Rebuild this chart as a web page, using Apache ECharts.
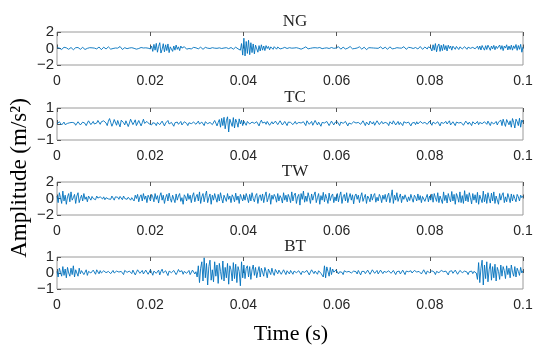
<!DOCTYPE html>
<html><head><meta charset="utf-8">
<script src="https://cdn.jsdelivr.net/npm/echarts@6/dist/echarts.min.js"></script>
<style>html,body{margin:0;padding:0;background:#fff}#c{width:550px;height:354px}</style>
</head><body><div id="c"></div>
<script>
const panelTitles = ['NG', 'TC', 'TW', 'BT'];
const yLimits = [[-2, 2, 2], [-1, 1, 1], [-2, 2, 2], [-1, 1, 1]];
const xTicks = [0, 0.02, 0.04, 0.06, 0.08, 0.1];
const tStart = 0, tEnd = 0.1;

const ng = [
.1,.18,.05,-.08,-.12,.02,.15,.2,.08,-.05,-.1,.05,.12,.0,-.15,-.05,.1,.22,.12,-.02,-.1,.0,.14,.06,-.12,-.18,.02,.16,.1,-.04,.08,.2,.05,-.1,-.05,.12,.18,.0,-.14,.04,
.16,.1,-.06,.02,.2,.14,-.08,-.16,.0,.12,.06,-.1,.04,.18,.24,.05,-.12,-.04,.1,.16,-.02,-.14,.06,.2,.1,-.05,.02,.14,-.08,-.2,.0,.18,.12,-.04,.06,.22,.08,-.1,.04,.12,
-.05,.3,-.35,.5,-.2,.62,-.45,.25,.7,-.55,-.1,.58,-.4,.45,-.25,.55,-.5,.2,.4,-.35,.3,-.2,.42,-.1,.2,-.25,.3,.05,-.12,.22,.1,-.08,.15,.0,.18,-.05,.1,.14,-.06,.08,
.12,-.04,.06,.16,.02,-.1,.08,.14,-.02,.04,.12,.0,-.08,.1,.18,.04,-.06,.02,.12,.08,-.1,.0,.14,.06,-.04,.1,.16,-.02,.04,.12,.0,-.08,.06,.16,.08,-.04,.1,-.2,.6,-.8,
1.25,-.9,.85,-.6,1.0,-.75,.7,-.5,.55,-.65,.4,.6,-.45,.35,-.3,.45,-.2,.3,-.25,.35,.0,.25,-.15,.2,.1,-.1,.22,.05,-.08,.18,.12,-.05,.15,.02,-.1,.14,.2,.0,-.06,.1,
.16,.04,-.1,.06,.18,.1,-.06,.02,.14,-.08,-.14,.04,.12,.2,.06,-.04,.1,.02,-.12,.08,.16,.1,-.02,.06,.2,.12,-.08,-.02,.1,.04,-.1,.08,.18,.0,-.06,.12,.16,.02,-.08,.06,
.14,.22,.06,-.08,.02,.16,.1,-.06,-.12,.04,.18,.24,.08,-.04,.1,.0,-.1,.06,.14,.2,.02,-.08,.12,.16,.0,-.14,.04,.1,.22,.08,-.06,.06,.18,.04,-.1,.02,.14,.2,.06,-.04,
.08,.16,-.02,-.1,.06,.2,.12,-.04,.08,.0,-.12,.1,.18,.06,-.08,.04,.16,.22,.02,-.1,.06,.14,-.04,.1,.2,.0,-.08,.12,.06,-.06,.14,.24,.04,-.1,.08,.18,.02,-.06,.2,.3,
.05,-.3,.45,-.2,.6,-.4,.3,.55,-.35,.4,-.25,.5,-.15,.35,-.3,.4,.0,.3,-.2,.28,.05,-.1,.25,.1,-.12,.2,.15,-.05,.08,.22,.0,-.1,.16,.26,.02,-.08,.14,.2,-.04,.1,
.28,-.1,.3,-.18,.36,.05,-.2,.34,-.12,.4,.1,-.22,.3,-.05,.38,-.15,.28,.0,-.2,.42,-.1,.35,-.25,.3,.05,.45,-.18,.3,-.12,.4,-.2,.32,.0,.48,-.22,.36,-.1,.5,-.45,.2
];
const tc = [
.0,.08,.14,.02,-.06,.06,.12,-.04,-.1,.04,.16,.08,-.02,.1,.2,.06,-.08,.02,.14,.1,-.06,.0,.12,.18,.04,-.1,.06,.2,.12,-.04,.08,.16,.0,-.12,.06,.22,.1,-.02,.14,.04,
.2,.3,.06,-.1,.18,.34,.1,-.14,.04,.28,.16,-.08,.22,.0,-.18,.24,.36,.08,-.06,.2,.12,-.16,.06,.3,.18,-.04,.1,.26,-.1,-.02,.22,.14,-.12,.08,.3,.04,-.08,.16,.24,.0,
.12,-.06,.08,.2,.04,-.1,.1,.16,-.04,.02,.18,.08,-.12,.06,.14,.22,.0,-.08,.1,.04,-.14,.08,.2,.12,-.02,.06,.16,-.06,.0,.14,.2,.04,-.1,.08,.18,.02,-.06,.12,.06,-.02,
.1,.18,.0,-.08,.12,.04,-.1,.14,.2,.02,-.06,.1,.16,-.04,.08,.22,.06,-.12,.1,.28,-.2,.35,-.1,.42,-.3,.2,.45,-.5,.3,.38,-.15,.4,-.25,.3,.1,-.2,.32,.0,.24,-.1,
.18,.06,-.08,.16,.22,.0,-.1,.12,.2,.04,-.06,.14,.08,-.12,.1,.24,.06,-.04,.12,-.02,.16,.2,-.08,.04,.14,.0,-.1,.18,.1,-.04,.06,.2,.12,-.06,.02,.16,.08,-.1,.12,.04,
.1,.2,-.04,.06,.16,.0,-.12,.1,.18,.06,-.06,.14,.02,-.1,.2,.12,-.02,.08,.16,-.08,.0,.22,.1,-.06,.12,.04,-.14,.1,.2,.06,-.04,.16,.08,-.1,.04,.18,.12,-.06,.1,.0,
.14,.06,-.1,.12,.22,.04,-.04,.16,.1,-.12,.06,.18,.0,-.08,.14,.2,.06,-.06,.1,.16,-.02,.04,.2,.08,-.1,.12,.04,-.06,.18,.1,.0,.14,-.08,.06,.2,.12,-.04,.08,.16,.02,
-.06,.1,.18,.04,-.1,.14,.08,.0,.2,.12,-.06,.06,.16,-.04,.1,.02,-.1,.14,.2,.06,-.02,.12,.08,-.12,.06,.18,.1,-.04,.14,.0,-.08,.16,.22,.04,-.06,.1,.14,-.02,.08,.18,
.06,-.08,.12,.2,.02,-.06,.14,.08,-.12,.1,.18,.04,-.04,.16,.0,.1,.2,-.06,.06,.14,.02,-.1,.12,.22,.06,-.04,.1,.16,-.08,.04,.18,.1,-.02,.12,.06,-.1,.14,.2,.0,.08,
.16,-.04,.1,.2,.02,-.08,.14,.06,-.02,.18,.1,-.1,.12,.2,.0,.08,.16,-.06,.12,.04,.24,-.1,.3,.05,-.15,.28,.36,-.05,.2,-.2,.34,.1,-.25,.3,.15,-.1,.36,-.2,.25,.1
];
const tw = [
.3,-.5,.7,.1,-.6,.9,-.3,.4,-.7,.2,.6,-.4,.8,-.2,.1,.5,-.6,.3,.7,-.5,.0,.4,-.3,.6,-.1,.2,-.4,.3,.1,-.2,.25,.0,.15,-.15,.3,.05,-.1,.2,.1,-.05,
.2,-.15,.1,.25,-.05,.15,-.1,.3,.05,-.2,.2,.0,.15,-.1,.25,.1,-.15,.3,.0,.2,-.1,.15,.35,-.2,.1,.3,-.3,.4,.0,.5,-.4,.2,.45,-.3,.6,-.1,.3,-.5,.4,.1,
-.3,.5,.2,-.4,.6,-.1,.35,-.55,.3,.7,-.2,.4,-.6,.1,.5,-.3,.65,.0,-.45,.4,.2,-.5,.55,-.2,.3,.6,-.35,.1,-.7,.45,.2,-.3,.6,-.1,.4,-.5,.3,.7,-.4,.2,
.5,-.3,.8,-.6,.2,.6,-.4,.35,.9,-.5,.1,.55,-.7,.4,-.2,.6,.05,-.45,.5,-.3,.7,.0,-.55,.4,.2,-.35,.6,-.1,.3,-.5,.45,.15,-.4,.65,-.2,.3,-.6,.5,.1,-.3,
.4,-.2,.6,.1,-.5,.5,-.3,.7,.0,-.4,.35,.6,-.6,.2,.45,-.25,.55,-.5,.3,.8,-.4,.1,.6,-.7,.4,-.1,.5,.2,-.45,.6,-.3,.35,.05,-.55,.7,-.2,.4,-.4,.5,.1,
-.5,.8,-.3,.4,.65,-.6,.2,.5,-.8,.6,-.1,.9,-.45,.3,-.35,.7,.1,-.6,.55,-.2,.4,.8,-.5,.1,.6,-.7,.35,-.2,.75,-.4,.5,.0,-.6,.65,-.25,.3,.55,-.5,.2,-.3,
.6,-.4,.35,.8,-.6,.2,.5,-.3,.7,-.5,.1,.6,-.2,.45,-.65,.3,.55,-.1,.4,-.5,.25,.7,-.35,.1,.5,-.6,.3,.05,-.4,.55,-.2,.35,.6,-.45,.15,-.3,.5,.2,-.5,.4,
-.1,.5,-.4,.3,.65,-.5,.2,1.05,-.6,.4,-.2,.7,-.35,.15,.55,-.5,.3,-.1,.45,.6,-.4,.2,-.25,.5,.0,-.45,.4,.15,-.3,.55,-.2,.35,-.5,.25,.45,-.35,.1,.5,-.4,.3,
-.2,.55,-.45,.6,.1,-.35,.7,-.5,.3,.45,-.6,.8,-.25,.4,-.55,.6,.0,-.4,.85,-.3,.5,-.7,.6,.2,-.45,.8,-.5,.35,-.6,.95,-.3,.5,-.4,.7,.1,-.65,.6,-.2,.45,-.5,
.75,-.7,.4,.2,-.5,.9,-.4,.5,-.6,.7,.0,-.55,.65,-.3,.8,-.6,.3,.5,-.7,.6,-.2,.4,.7,-.5,.2,-.4,.6,.1,-.5,.55,-.3,.45,.0,-.4,.5,.2,-.3,.4,.1,.3
];
const bt = [
.1,-.25,.3,.05,-.2,.4,-.15,.25,-.3,.35,.0,-.2,.3,-.1,.45,-.25,.2,.1,-.2,.3,-.05,.15,.25,-.1,.05,.2,-.15,.1,.22,.0,-.1,.18,.06,-.08,.2,.12,-.05,.15,.0,-.1,
.14,.2,.02,-.08,.1,.18,-.04,.06,.16,.0,-.12,.12,.2,.06,-.06,.1,.02,-.1,.16,.22,.04,-.08,.12,.06,-.04,.18,.1,-.12,.04,.2,.14,-.02,.08,.16,-.06,.0,.18,.1,-.08,.06,
.2,.04,-.14,.12,.22,-.02,.06,.18,-.12,.1,.24,.0,-.08,.14,.06,-.16,.12,.2,.02,-.06,.16,.1,-.1,.04,.22,.08,-.04,.14,-.08,.1,.2,-.02,.06,.16,-.1,.0,.18,.12,-.06,.08,
-.25,.45,-.6,.3,.7,-.5,.95,-.3,.6,-.75,.4,.8,-.45,.2,-.55,.7,-.2,.5,-.65,.6,.1,-.4,.75,-.5,.35,-.3,.6,-.7,.45,.2,-.5,.65,-.35,.55,-.6,.4,.1,-.8,.7,-.3,
.5,-.35,.3,.45,-.25,.4,-.4,.2,.5,-.15,.35,-.3,.1,.4,-.25,.3,.05,-.2,.35,.1,-.3,.25,.15,-.1,.3,.0,-.15,.22,.1,-.05,.18,.25,-.08,.06,.2,.12,-.1,.14,.04,-.06,
.16,.06,-.08,.12,.2,.02,-.06,.14,.08,-.1,.1,.18,.04,-.04,.16,.1,-.12,.06,.2,.08,-.04,.12,.02,-.08,.14,.18,-.02,.1,-.25,.45,-.3,.38,.1,-.2,.35,-.1,.25,.05,-.05,.2,
.12,-.06,.08,.2,.04,-.1,.14,.22,.06,-.04,.1,.18,.0,-.1,.12,.2,.08,-.06,.16,.02,-.12,.1,.22,.1,-.04,.06,.18,.12,-.08,.04,.2,.14,-.02,.08,.16,-.06,.02,.18,.1,-.04,
.1,.22,.04,-.08,.14,.2,-.02,.06,.16,.1,-.1,.08,.2,.12,-.06,.02,.18,.06,-.1,.12,.24,.08,-.04,.14,.0,-.08,.16,.22,.06,-.02,.1,.18,-.06,.04,.2,.1,-.08,.12,.16,.02,
-.04,.14,.2,.06,-.1,.1,.18,.02,-.06,.16,.22,.08,-.04,.12,.0,-.12,.1,.2,.14,-.02,.06,.18,.1,-.08,.04,.16,.24,.02,-.06,.12,.2,.06,-.1,.08,.18,.12,-.04,.1,.2,.0,
-.4,.65,-.6,.3,.8,-.75,.5,-.35,.7,-.55,.2,.6,-.45,.4,-.3,.55,-.5,.35,.1,-.4,.5,-.2,.4,.15,-.35,.45,-.1,.3,-.3,.5,.05,-.2,.4,-.25,.3,.1,-.15,.35,.0,.15
];
const signals = [ng, tc, tw, bt];

const chart = echarts.init(document.getElementById('c'), null, {renderer: 'canvas'});
const gridTops = [32, 108, 182, 257];
const gridH = [33, 32, 33, 32];
const L = 57, R = 27;
const boxColor = '#9a9a9a';
const lblColor = '#262626';
const fmtMinus = v => String(v).replace('-', '\u2212');

const grids = [], xAxes = [], yAxes = [], series = [], titles = [];
signals.forEach((sig, i) => {
  grids.push({left: L, right: R, top: gridTops[i], height: gridH[i], show: true, borderColor: boxColor, borderWidth: 1, backgroundColor: '#fff'});
  const common = {type: 'value', gridIndex: i, min: tStart, max: tEnd, interval: 0.02,
    axisLine: {show: false}, splitLine: {show: false},
    axisTick: {show: true, inside: true, length: 4, lineStyle: {color: '#555', width: 1}}};
  xAxes.push(Object.assign({}, common, {position: 'bottom',
    axisLabel: {show: true, color: lblColor, fontFamily: 'Liberation Sans', fontSize: 14, margin: 9,
      formatter: v => String(+v.toFixed(2))}}));
  xAxes.push(Object.assign({}, common, {position: 'top', axisLabel: {show: false}}));
  yAxes.push({type: 'value', gridIndex: i, min: yLimits[i][0], max: yLimits[i][1], interval: yLimits[i][2],
    axisLine: {show: false}, splitLine: {show: false},
    axisTick: {show: true, inside: true, length: 4, lineStyle: {color: '#555'}},
    axisLabel: {color: lblColor, fontFamily: 'Liberation Sans', fontSize: 15, margin: 3, formatter: fmtMinus}});
  const n = sig.length;
  series.push({type: 'line', xAxisIndex: 2 * i, yAxisIndex: i, showSymbol: false, animation: false,
    lineStyle: {color: '#0072BD', width: 0.9}, clip: true,
    data: sig.map((v, k) => [tStart + (tEnd - tStart) * k / (n - 1), v])});
  titles.push({text: panelTitles[i], left: L + (550 - L - R) / 2, top: gridTops[i] - 24, textAlign: 'center',
    textStyle: {fontFamily: 'Liberation Serif', fontSize: 17, fontWeight: 'normal', color: lblColor}});
});

chart.setOption({
  animation: false,
  title: titles,
  grid: grids,
  xAxis: xAxes,
  yAxis: yAxes,
  series: series,
  graphic: [
    {type: 'text', x: 20, y: 178, rotation: Math.PI / 2,
      style: {text: 'Amplitude (m/s\u00B2)', fontFamily: 'Liberation Serif', fontSize: 23, fill: '#000', align: 'center', verticalAlign: 'middle'}},
    {type: 'text', x: 291, y: 334,
      style: {text: 'Time (s)', fontFamily: 'Liberation Serif', fontSize: 22, fill: '#000', align: 'center', verticalAlign: 'middle'}}
  ]
});
</script>
</body></html>
